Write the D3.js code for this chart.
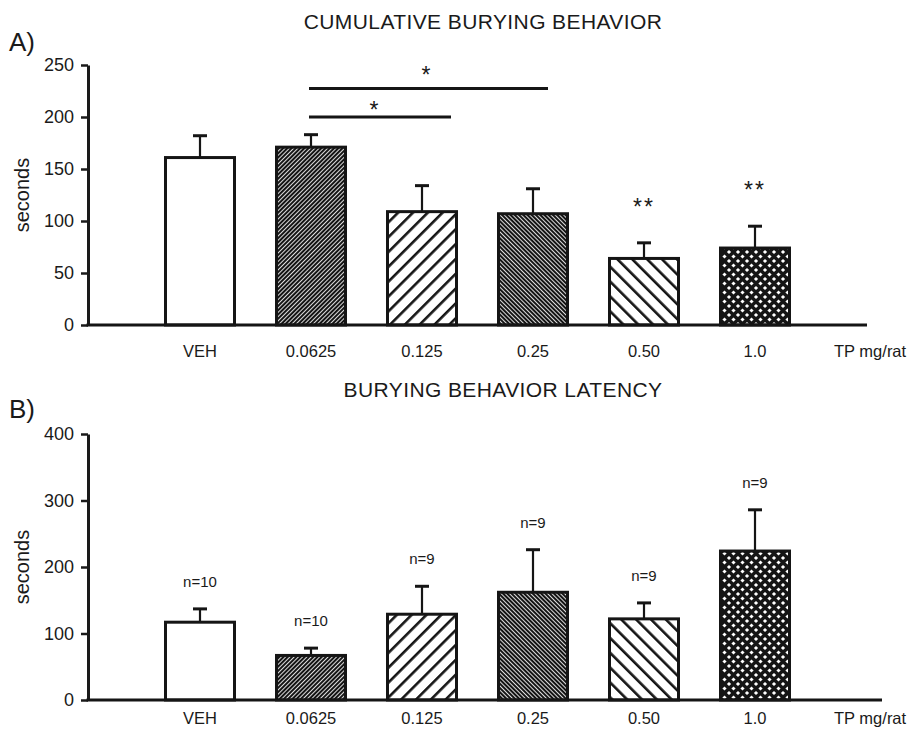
<!DOCTYPE html>
<meta charset="utf-8">
<html>
<head>
<title>Burying behavior</title>
<style>
body { margin: 0; background: #fff; }
text { font-family: "Liberation Sans", Arial, sans-serif; fill: #1a1a1a; }
.axis path, .axis line { stroke: #1a1a1a; }
</style>
</head>
<body>
<script src="https://d3js.org/d3.v7.min.js"></script>
<script>

var width = 923, height = 730;

// data
var doses = ["VEH", "0.0625", "0.125", "0.25", "0.50", "1.0"];
var fills = ["white", "denseUp", "sparseUp", "denseDown", "sparseDown", "cross"];

var cumMean = [161, 171, 109, 107, 64, 74];
var cumErr  = [21, 12, 25, 24, 15, 21];
var cumStars = ["", "", "", "", "**", "**"];

var latMean = [117, 67, 129, 162, 122, 224];
var latErr  = [20, 11, 42, 64, 24, 62];
var latN    = ["n=10", "n=10", "n=9", "n=9", "n=9", "n=9"];

var ticksA = [0, 50, 100, 150, 200, 250];
var ticksB = [0, 100, 200, 300, 400];

var svg = d3.select("body").append("svg")
    .attr("width", width)
    .attr("height", height);

var defs = svg.append("defs");

function lines(id, angle, gap, lw, bg, fg) {
  var p = defs.append("pattern")
      .attr("id", id)
      .attr("patternUnits", "userSpaceOnUse")
      .attr("width", gap).attr("height", gap)
      .attr("patternTransform", "rotate(" + angle + ")");
  p.append("rect").attr("width", gap).attr("height", gap).attr("fill", bg);
  p.append("rect").attr("x", 0).attr("width", lw).attr("height", gap).attr("fill", fg);
}
lines("denseUp", 45, 3, 0.85, "#141414", "#fff");
lines("denseDown", -45, 3, 0.85, "#141414", "#fff");
lines("sparseUp", 45, 10.5, 2.6, "#fff", "#151515");
lines("sparseDown", -45, 10.5, 2.6, "#fff", "#151515");

// crosshatch: black with white diamonds
var cp = defs.append("pattern")
    .attr("id", "cross")
    .attr("patternUnits", "userSpaceOnUse")
    .attr("width", 9).attr("height", 9);
cp.append("rect").attr("width", 9).attr("height", 9).attr("fill", "#151515");
[[0, 0], [9, 0], [0, 9], [9, 9], [4.5, 4.5]].forEach(function(c) {
  var s = 2.1;
  cp.append("path")
    .attr("d", "M" + c[0] + "," + (c[1] - s) + "L" + (c[0] + s) + "," + c[1] +
               "L" + c[0] + "," + (c[1] + s) + "L" + (c[0] - s) + "," + c[1] + "Z")
    .attr("fill", "#fff");
});

var x = d3.scalePoint().domain(doses).range([200, 755]);
var barW = 69;

function panel(opt) {
  var y = d3.scaleLinear().domain(opt.domain).range([opt.y0, opt.y1]);
  var g = svg.append("g");

  g.append("text")
      .attr("x", opt.titleX).attr("y", opt.titleY)
      .attr("text-anchor", "middle")
      .style("font-size", "21px")
      .style("letter-spacing", "0.4px")
      .text(opt.title);

  g.append("text")
      .attr("x", 9).attr("y", opt.letterY)
      .style("font-size", "26px")
      .text(opt.letter);

  g.append("text")
      .attr("transform", "translate(29," + ((opt.y0 + opt.y1) / 2) + ") rotate(-90)")
      .attr("text-anchor", "middle")
      .style("font-size", "20px")
      .text("seconds");

  var ax = g.append("g")
      .attr("class", "axis")
      .attr("transform", "translate(88,0)")
      .call(d3.axisLeft(y).tickValues(opt.ticks).tickSize(7).tickPadding(7).tickSizeOuter(0));
  ax.select(".domain").attr("stroke-width", 3);
  ax.selectAll(".tick line").attr("stroke-width", 2.5);
  ax.selectAll(".tick text").style("font-size", "18px").attr("fill", "#1a1a1a");

  // error bars
  g.selectAll(".err").data(opt.mean).enter().append("line")
      .attr("x1", function(d, i) { return x(doses[i]); })
      .attr("x2", function(d, i) { return x(doses[i]); })
      .attr("y1", function(d) { return y(d); })
      .attr("y2", function(d, i) { return y(d + opt.err[i]); })
      .attr("stroke", "#151515").attr("stroke-width", 2.2);
  g.selectAll(".cap").data(opt.mean).enter().append("line")
      .attr("x1", function(d, i) { return x(doses[i]) - 7; })
      .attr("x2", function(d, i) { return x(doses[i]) + 7; })
      .attr("y1", function(d, i) { return y(d + opt.err[i]); })
      .attr("y2", function(d, i) { return y(d + opt.err[i]); })
      .attr("stroke", "#151515").attr("stroke-width", 3);

  g.selectAll(".bar").data(opt.mean).enter().append("rect")
      .attr("x", function(d, i) { return x(doses[i]) - barW / 2; })
      .attr("y", function(d) { return y(d); })
      .attr("width", barW)
      .attr("height", function(d) { return y(0) - y(d); })
      .attr("fill", function(d, i) { return fills[i] === "white" ? "#fff" : "url(#" + fills[i] + ")"; })
      .attr("stroke", "#151515").attr("stroke-width", 3);

  // x axis line
  g.append("line")
      .attr("x1", 86.5).attr("x2", opt.xEnd)
      .attr("y1", y(0)).attr("y2", y(0))
      .attr("stroke", "#151515").attr("stroke-width", 3);

  g.selectAll(".xl").data(doses).enter().append("text")
      .attr("x", function(d) { return x(d); })
      .attr("y", opt.labelY)
      .attr("text-anchor", "middle")
      .style("font-size", "16.5px")
      .text(function(d) { return d; });
  g.append("text")
      .attr("x", 834).attr("y", opt.labelY)
      .style("font-size", "16.5px")
      .text("TP mg/rat");

  return y;
}

var yA = panel({
  title: "CUMULATIVE BURYING BEHAVIOR", titleX: 483, titleY: 29, letter: "A)", letterY: 51,
  domain: [0, 250], y0: 325, y1: 65, ticks: ticksA,
  mean: cumMean, err: cumErr, xEnd: 867, labelY: 357
});

svg.selectAll(".star2").data(cumStars).enter().append("text")
    .attr("x", function(d, i) { return x(doses[i]); })
    .attr("y", function(d, i) { return yA(cumMean[i] + cumErr[i]) - 28; })
    .attr("text-anchor", "middle")
    .style("font-size", "23px")
    .style("letter-spacing", "2px")
    .text(function(d) { return d; });

// significance brackets: from, to, line y, right overhang, star x, star baseline
var sig = [["0.0625", "0.125", 117, 29, 374, 118], ["0.0625", "0.25", 88.5, 15, 426, 83]];
sig.forEach(function(s) {
  svg.append("line")
      .attr("x1", x(s[0]) - 2).attr("x2", x(s[1]) + s[3])
      .attr("y1", s[2]).attr("y2", s[2])
      .attr("stroke", "#151515").attr("stroke-width", 3);
  svg.append("text")
      .attr("x", s[4]).attr("y", s[5])
      .attr("text-anchor", "middle")
      .style("font-size", "23px")
      .text("*");
});

var yB = panel({
  title: "BURYING BEHAVIOR LATENCY", titleX: 503, titleY: 397, letter: "B)", letterY: 418,
  domain: [0, 400], y0: 700, y1: 434, ticks: ticksB,
  mean: latMean, err: latErr, xEnd: 882, labelY: 724
});

svg.selectAll(".nl").data(latN).enter().append("text")
    .attr("x", function(d, i) { return x(doses[i]); })
    .attr("y", function(d, i) { return yB(latMean[i] + latErr[i]) - 22; })
    .attr("text-anchor", "middle")
    .style("font-size", "15px")
    .text(function(d) { return d; });

</script>
</body>
</html>
